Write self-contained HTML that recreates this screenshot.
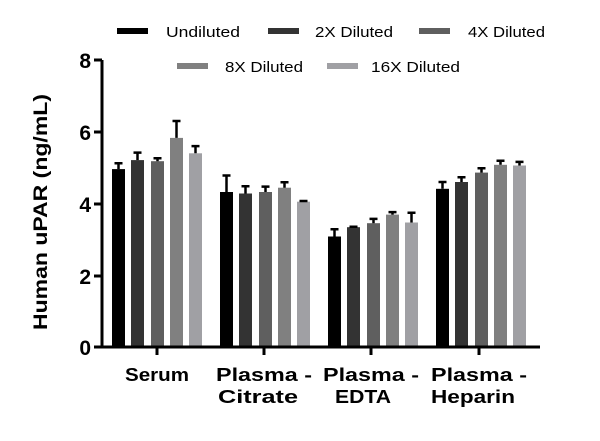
<!DOCTYPE html>
<html><head><meta charset="utf-8"><style>body{margin:0;background:#fff}svg{display:block}</style></head><body>
<svg width="600" height="441" xmlns="http://www.w3.org/2000/svg" font-family="Liberation Sans, sans-serif">
<g font-size="15" fill="#000">
<rect x="117" y="28" width="31" height="6" fill="#000"/><text x="166" y="37" textLength="74" lengthAdjust="spacingAndGlyphs">Undiluted</text>
<rect x="268" y="28" width="31" height="6" fill="#333"/><text x="315" y="37" textLength="78" lengthAdjust="spacingAndGlyphs">2X Diluted</text>
<rect x="419" y="28" width="31" height="6" fill="#5f5f5f"/><text x="468" y="37" textLength="77" lengthAdjust="spacingAndGlyphs">4X Diluted</text>
<rect x="177" y="63" width="31" height="6" fill="#808080"/><text x="225" y="72" textLength="78" lengthAdjust="spacingAndGlyphs">8X Diluted</text>
<rect x="327" y="63" width="31" height="6" fill="#a0a0a4"/><text x="371" y="72" textLength="89" lengthAdjust="spacingAndGlyphs">16X Diluted</text>
</g>
<g>
<rect x="112" y="169.1" width="13" height="177.9" fill="#000"/>
<rect x="131" y="160.1" width="13" height="186.9" fill="#333"/>
<rect x="151" y="161.2" width="13" height="185.8" fill="#5f5f5f"/>
<rect x="170" y="137.9" width="13" height="209.1" fill="#808080"/>
<rect x="189" y="153.3" width="13" height="193.7" fill="#a0a0a4"/>
<rect x="220" y="192.0" width="13" height="155.0" fill="#000"/>
<rect x="239" y="193.5" width="13" height="153.5" fill="#333"/>
<rect x="259" y="192.0" width="13" height="155.0" fill="#5f5f5f"/>
<rect x="278" y="187.7" width="13" height="159.3" fill="#808080"/>
<rect x="297" y="201.7" width="13" height="145.3" fill="#a0a0a4"/>
<rect x="328" y="236.5" width="13" height="110.5" fill="#000"/>
<rect x="347" y="227.2" width="13" height="119.8" fill="#333"/>
<rect x="367" y="223.2" width="13" height="123.8" fill="#5f5f5f"/>
<rect x="386" y="214.6" width="13" height="132.4" fill="#808080"/>
<rect x="405" y="222.5" width="13" height="124.5" fill="#a0a0a4"/>
<rect x="436" y="188.8" width="13" height="158.2" fill="#000"/>
<rect x="455" y="182.0" width="13" height="165.0" fill="#333"/>
<rect x="475" y="172.6" width="13" height="174.4" fill="#5f5f5f"/>
<rect x="494" y="164.8" width="13" height="182.2" fill="#808080"/>
<rect x="513" y="165.5" width="13" height="181.5" fill="#a0a0a4"/>
</g>
<g stroke="#000" stroke-width="2.5" fill="none">
<path d="M118.5,169.1V163.3M114.5,163.3H122.5"/>
<path d="M137.5,160.1V152.6M133.5,152.6H141.5"/>
<path d="M157.5,161.2V158.3M153.5,158.3H161.5"/>
<path d="M176.5,137.9V121.0M172.5,121.0H180.5"/>
<path d="M195.5,153.3V146.1M191.5,146.1H199.5"/>
<path d="M226.5,192.0V175.5M222.5,175.5H230.5"/>
<path d="M245.5,193.5V186.3M241.5,186.3H249.5"/>
<path d="M265.5,192.0V186.6M261.5,186.6H269.5"/>
<path d="M284.5,187.7V182.3M280.5,182.3H288.5"/>
<path d="M303.5,201.7V201.0M299.5,201.0H307.5"/>
<path d="M334.5,236.5V229.3M330.5,229.3H338.5"/>
<path d="M353.5,227.2V226.8M349.5,226.8H357.5"/>
<path d="M373.5,223.2V218.9M369.5,218.9H377.5"/>
<path d="M392.5,214.6V212.1M388.5,212.1H396.5"/>
<path d="M411.5,222.5V212.8M407.5,212.8H415.5"/>
<path d="M442.5,188.8V182.0M438.5,182.0H446.5"/>
<path d="M461.5,182.0V177.3M457.5,177.3H465.5"/>
<path d="M481.5,172.6V168.3M477.5,168.3H485.5"/>
<path d="M500.5,164.8V160.8M496.5,160.8H504.5"/>
<path d="M519.5,165.5V161.9M515.5,161.9H523.5"/>
</g>
<g stroke="#000" stroke-width="3" fill="none">
<path d="M102,60 V348 M94,60 H102 M94,132 H102 M94,204 H102 M94,276 H102 M94,347 H102 M100,347 H540"/>
<path d="M157,347 V355 M264,347 V355 M371,347 V355 M479,347 V355"/>
</g>
<g font-size="21" font-weight="bold" text-anchor="end">
<text x="91" y="68">8</text><text x="91" y="140">6</text><text x="91" y="212">4</text><text x="91" y="284">2</text><text x="91" y="355">0</text>
</g>
<text transform="translate(47,212) rotate(-90)" font-size="19" font-weight="bold" text-anchor="middle" textLength="236" lengthAdjust="spacingAndGlyphs">Human uPAR (ng/mL)</text>
<g font-size="18" font-weight="bold" text-anchor="middle">
<text x="157" y="381" textLength="64" lengthAdjust="spacingAndGlyphs">Serum</text>
<text x="264" y="381" textLength="96" lengthAdjust="spacingAndGlyphs">Plasma -</text><text x="258" y="403" textLength="80" lengthAdjust="spacingAndGlyphs">Citrate</text>
<text x="371" y="381" textLength="96" lengthAdjust="spacingAndGlyphs">Plasma -</text><text x="363" y="403" textLength="56" lengthAdjust="spacingAndGlyphs">EDTA</text>
<text x="479" y="381" textLength="96" lengthAdjust="spacingAndGlyphs">Plasma -</text><text x="473" y="403" textLength="84" lengthAdjust="spacingAndGlyphs">Heparin</text>
</g>
</svg>
</body></html>
